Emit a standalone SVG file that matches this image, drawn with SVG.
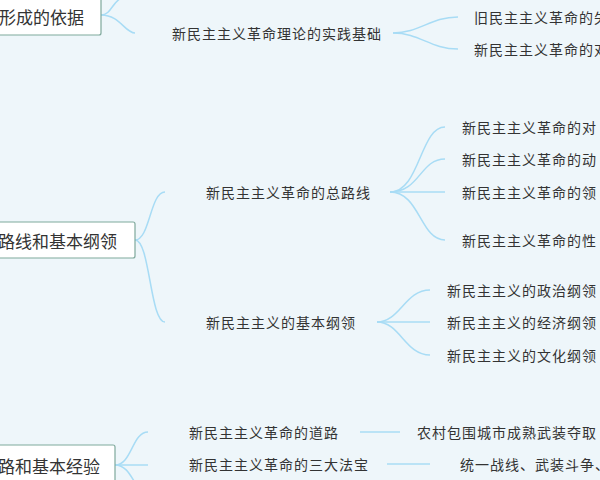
<svg xmlns="http://www.w3.org/2000/svg" width="600" height="480" viewBox="0 0 600 480">
<style>
text{font-family:"Noto Sans CJK SC","Noto Sans",sans-serif;fill:#333;dominant-baseline:central}
.t{font-size:14px;letter-spacing:1px}
.b{font-size:17px}
.box{fill:#fff;stroke:#7fa99c;stroke-width:1.2}
.c path{fill:none;stroke:#a8dcf5;stroke-width:1.5}
</style>
<rect width="600" height="480" fill="#eef6fa"/>
<g class="c">
<path d="M101 15 C112 15 112 0 125 -4"/>
<path d="M101 15 C120 15 125 33 135 33"/>
<path d="M393 33 C420 33 430 17 458 17"/>
<path d="M393 33 C420 33 430 49 458 49"/>
<path d="M135 240 C150 240 150 192 165 192"/>
<path d="M135 240 C150 240 150 322 165 322"/>
<path d="M390 192 C420 192 420 127 445 127"/>
<path d="M390 192 C420 192 420 159 445 159"/>
<path d="M390 192 L445 192"/>
<path d="M390 192 C420 192 420 240 445 240"/>
<path d="M377 322 C400 322 405 290 430 290"/>
<path d="M377 322 L430 322"/>
<path d="M377 322 C400 322 405 355 430 355"/>
<path d="M115 465 C132 465 132 432 148 432"/>
<path d="M115 465 L148 465"/>
<path d="M115 465 C128 465 132 480 140 490"/>
<path d="M360 432 L400 432"/>
<path d="M387 464 L430 464"/>
</g>
<g id="n1"><rect class="box" x="-10" y="-5" width="111" height="40" rx="2"/><text class="b" x="-1" y="16">形成的依据</text></g>
<g id="n2"><rect class="box" x="-10" y="222" width="145" height="36" rx="2"/><text class="b" x="-2" y="240">路线和基本纲领</text></g>
<g id="n3"><rect class="box" x="-10" y="445" width="125" height="45" rx="2"/><text class="b" x="-2" y="465">路和基本经验</text></g>
<g id="a"><text class="t" x="172" y="33">新民主主义革命理论的实践基础</text></g>
<g id="a1"><text class="t" x="474" y="17">旧民主主义革命的失</text></g>
<g id="a2"><text class="t" x="474" y="49">新民主主义革命的对</text></g>
<g id="b"><text class="t" x="206" y="192">新民主主义革命的总路线</text></g>
<g id="b1"><text class="t" x="462" y="127">新民主主义革命的对</text></g>
<g id="b2"><text class="t" x="462" y="159">新民主主义革命的动</text></g>
<g id="b3"><text class="t" x="462" y="192">新民主主义革命的领</text></g>
<g id="b4"><text class="t" x="462" y="240">新民主主义革命的性</text></g>
<g id="c"><text class="t" x="206" y="322">新民主主义的基本纲领</text></g>
<g id="c1"><text class="t" x="447" y="290">新民主主义的政治纲领</text></g>
<g id="c2"><text class="t" x="447" y="322">新民主主义的经济纲领</text></g>
<g id="c3"><text class="t" x="447" y="355">新民主主义的文化纲领</text></g>
<g id="d"><text class="t" x="189" y="432">新民主主义革命的道路</text></g>
<g id="d1"><text class="t" x="417" y="432">农村包围城市成熟武装夺取</text></g>
<g id="e"><text class="t" x="189" y="464">新民主主义革命的三大法宝</text></g>
<g id="e1"><text class="t" x="460" y="464">统一战线、武装斗争、</text></g>
</svg>
